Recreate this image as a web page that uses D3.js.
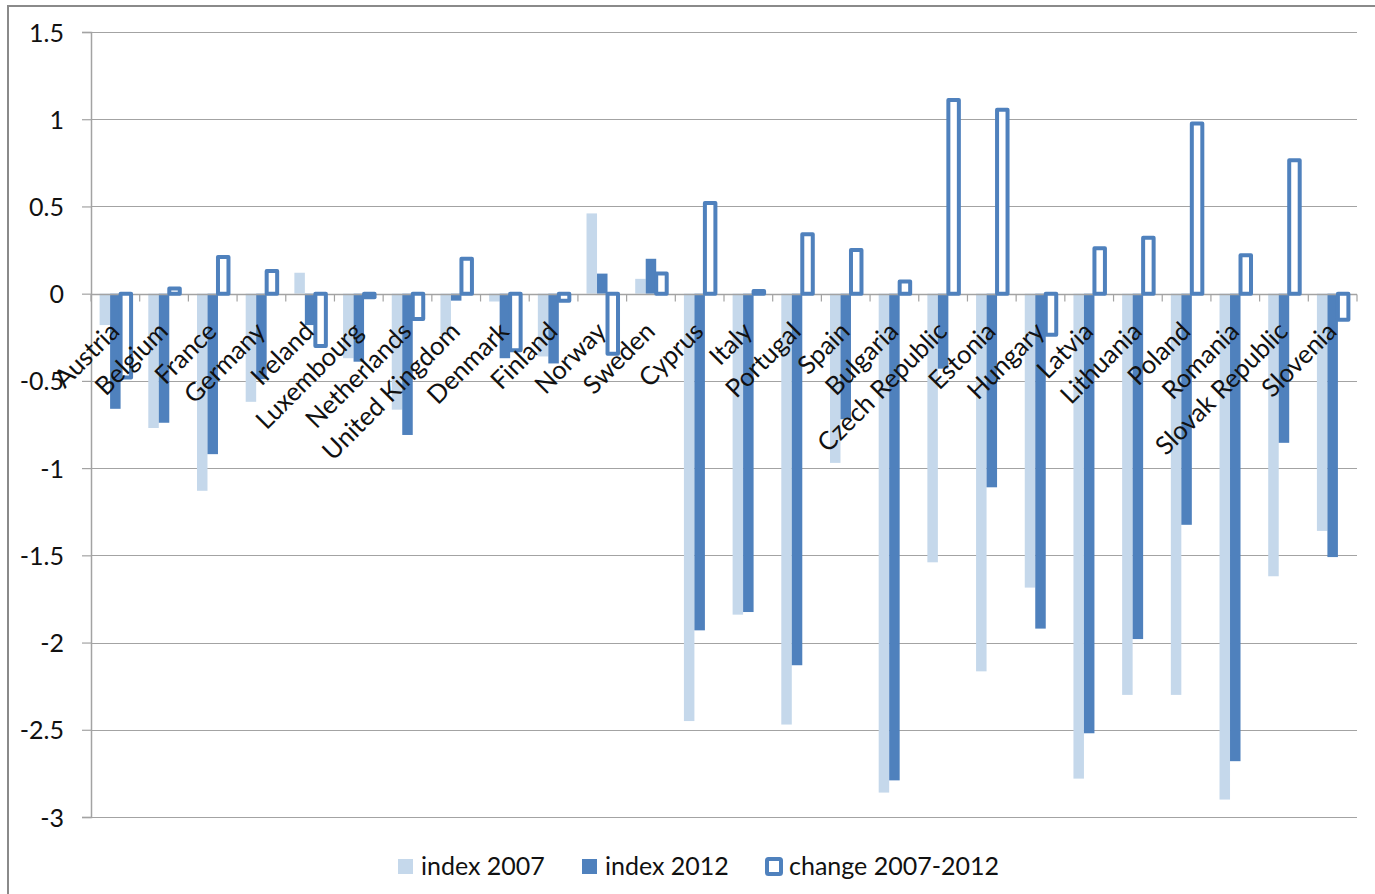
<!DOCTYPE html>
<html>
<head>
<meta charset="utf-8">
<script src="https://cdn.jsdelivr.net/npm/d3@7"></script>
<style>
  html, body { margin: 0; padding: 0; background: #fff; }
  svg { display: block; }
  text { font-family: Lato, "Open Sans", sans-serif; fill: #111; }
</style>
</head>
<body>
<svg id="chart" width="1375" height="894"></svg>
<script>
// Countries in display order
const categories = [
  "Austria", "Belgium", "France", "Germany", "Ireland", "Luxembourg",
  "Netherlands", "United Kingdom", "Denmark", "Finland", "Norway", "Sweden",
  "Cyprus", "Italy", "Portugal", "Spain", "Bulgaria", "Czech Republic",
  "Estonia", "Hungary", "Latvia", "Lithuania", "Poland", "Romania",
  "Slovak Republic", "Slovenia"
];

// Index values for 2007
const index2007 = [
  -0.18, -0.77, -1.13, -0.62, 0.12, -0.37,
  -0.665, -0.24, -0.045, -0.36, 0.46, 0.085,
  -2.45, -1.84, -2.47, -0.97, -2.86, -1.54,
  -2.165, -1.685, -2.78, -2.30, -2.30, -2.90,
  -1.62, -1.36
];

// Index values for 2012
const index2012 = [
  -0.66, -0.74, -0.92, -0.49, -0.18, -0.39,
  -0.81, -0.04, -0.37, -0.40, 0.115, 0.20,
  -1.93, -1.825, -2.13, -0.72, -2.79, -0.43,
  -1.11, -1.92, -2.52, -1.98, -1.325, -2.68,
  -0.855, -1.51
];

// Change between the two years
const change = [
  -0.48, 0.03, 0.21, 0.13, -0.30, -0.02,
  -0.145, 0.20, -0.325, -0.04, -0.345, 0.115,
  0.52, 0.015, 0.34, 0.25, 0.07, 1.11,
  1.055, -0.235, 0.26, 0.32, 0.975, 0.22,
  0.765, -0.15
];

const seriesNames = ["index 2007", "index 2012", "change 2007-2012"];
const yTickValues = [1.5, 1, 0.5, 0, -0.5, -1, -1.5, -2, -2.5, -3];
const yTickLabels = ["1.5", "1", "0.5", "0", "-0.5", "-1", "-1.5", "-2", "-2.5", "-3"];

const LIGHT = "#c5d8eb";
const DARK = "#4f81bd";
const GRID = "#a3a3a3";

const svg = d3.select("#chart");

// Outer chart frame
svg.append("rect")
  .attr("x", 8).attr("y", 6)
  .attr("width", 1400).attr("height", 920)
  .attr("fill", "none")
  .attr("stroke", "#8a8a8a")
  .attr("stroke-width", 2);

const plot = { left: 91, right: 1357, top: 32, bottom: 817 };

const x = d3.scaleBand()
  .domain(categories)
  .range([plot.left, plot.right])
  .paddingInner(0)
  .paddingOuter(0);

const xs = d3.scaleBand()
  .domain(seriesNames)
  .range([0, x.bandwidth()])
  .paddingInner(0)
  .paddingOuter(0.82);

const y = d3.scaleLinear()
  .domain([-3, 1.5])
  .range([plot.bottom, plot.top]);

// Horizontal gridlines
svg.append("g")
  .selectAll("line")
  .data(yTickValues)
  .join("line")
  .attr("x1", plot.left).attr("x2", plot.right)
  .attr("y1", d => Math.round(y(d)) + 0.5)
  .attr("y2", d => Math.round(y(d)) + 0.5)
  .attr("stroke", GRID)
  .attr("stroke-width", 1.2);

// Y axis with tick marks and labels
const labelOf = new Map(yTickValues.map((v, i) => [v, yTickLabels[i]]));
const yAxis = svg.append("g")
  .attr("transform", `translate(${plot.left},0)`)
  .call(d3.axisLeft(y)
    .tickValues(yTickValues)
    .tickFormat(d => labelOf.get(d))
    .tickSize(9)
    .tickPadding(18));
yAxis.select(".domain").attr("stroke", GRID).attr("stroke-width", 1.5);
yAxis.selectAll(".tick line").attr("stroke", GRID).attr("stroke-width", 1.2);
yAxis.selectAll(".tick text")
  .attr("font-size", 25)
  .attr("font-family", "Lato, 'Open Sans', sans-serif")
  .attr("fill", "#111")
  .attr("dy", "0.36em");

const rows = categories.map((c, i) => ({
  c, v07: index2007[i], v12: index2012[i], vc: change[i]
}));

// index 2007 bars
svg.append("g")
  .selectAll("rect")
  .data(rows)
  .join("rect")
  .attr("x", d => x(d.c) + xs("index 2007"))
  .attr("width", xs.bandwidth())
  .attr("y", d => y(Math.max(0, d.v07)))
  .attr("height", d => Math.abs(y(d.v07) - y(0)))
  .attr("fill", LIGHT);

// index 2012 bars
svg.append("g")
  .selectAll("rect")
  .data(rows)
  .join("rect")
  .attr("x", d => x(d.c) + xs("index 2012"))
  .attr("width", xs.bandwidth())
  .attr("y", d => y(Math.max(0, d.v12)))
  .attr("height", d => Math.abs(y(d.v12) - y(0)))
  .attr("fill", DARK);

// Category axis along zero with tick marks at band edges
const y0 = Math.round(y(0)) + 0.5;
svg.append("line")
  .attr("x1", plot.left).attr("x2", plot.right)
  .attr("y1", y0).attr("y2", y0)
  .attr("stroke", GRID).attr("stroke-width", 1.5);
const edges = categories.map(c => x(c)).concat([plot.right]);
svg.append("g")
  .selectAll("line")
  .data(edges)
  .join("line")
  .attr("x1", d => d).attr("x2", d => d)
  .attr("y1", y0).attr("y2", y0 + 7)
  .attr("stroke", GRID).attr("stroke-width", 1.2);

// change bars (outlined)
svg.append("g")
  .selectAll("rect")
  .data(rows)
  .join("rect")
  .attr("x", d => x(d.c) + xs("change 2007-2012"))
  .attr("width", xs.bandwidth())
  .attr("y", d => y(Math.max(0, d.vc)))
  .attr("height", d => Math.abs(y(d.vc) - y(0)))
  .attr("fill", "#fff")
  .attr("stroke", DARK)
  .attr("stroke-width", 4)
  .attr("stroke-linejoin", "round");

// Rotated category labels
svg.append("g")
  .selectAll("text")
  .data(categories)
  .join("text")
  .attr("transform", c => `translate(${x(c) + x.bandwidth() / 2 + 5.5},333) rotate(-45)`)
  .attr("text-anchor", "end")
  .attr("font-size", 25.5)
  .text(c => c);

// Legend
const legend = svg.append("g");
const legendItems = [
  { name: seriesNames[0], sx: 398, tx: 421 },
  { name: seriesNames[1], sx: 582, tx: 605 },
  { name: seriesNames[2], sx: 765, tx: 789 }
];
legendItems.forEach((it, i) => {
  if (i < 2) {
    legend.append("rect")
      .attr("x", it.sx).attr("y", 859)
      .attr("width", 15).attr("height", 15)
      .attr("fill", i === 0 ? LIGHT : DARK);
  } else {
    legend.append("rect")
      .attr("x", it.sx + 2).attr("y", 859)
      .attr("width", 14).attr("height", 15)
      .attr("rx", 1.5)
      .attr("fill", "#fff")
      .attr("stroke", DARK)
      .attr("stroke-width", 4);
  }
  legend.append("text")
    .attr("x", it.tx).attr("y", 875)
    .attr("font-size", 25)
    .text(it.name);
});
</script>
</body>
</html>
